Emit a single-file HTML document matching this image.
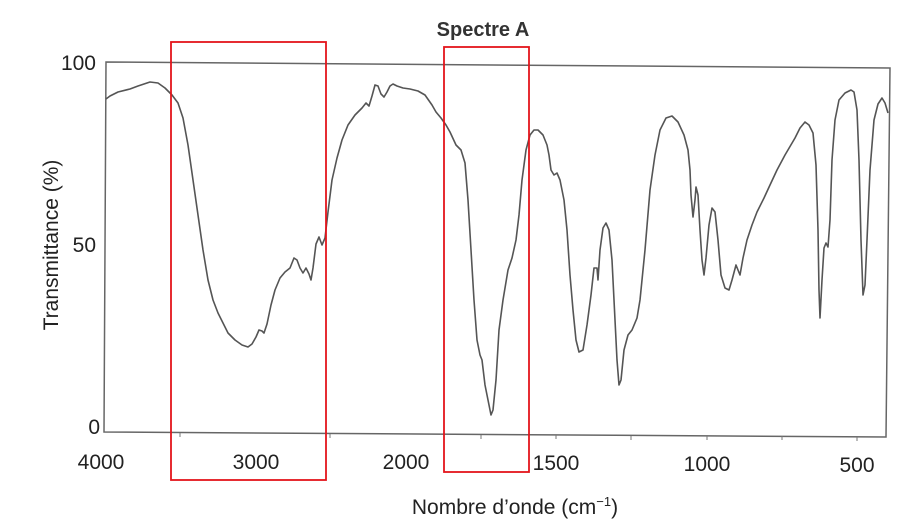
<!DOCTYPE html>
<html><head><meta charset="utf-8"><style>
body{margin:0;background:#fff;}
svg{display:block;font-family:"Liberation Sans",Arial,sans-serif;}
</style></head><body>
<svg width="910" height="523" viewBox="0 0 910 523">
<rect width="910" height="523" fill="#fff"/>
<text x="483" y="36" text-anchor="middle" font-size="20" font-weight="bold" fill="#333">Spectre A</text>
<polygon points="106,62 890,68 886,437 104,432" fill="none" stroke="#666" stroke-width="1.5"/>
<g stroke="#777" stroke-width="1">
<line x1="180" y1="433" x2="180" y2="437"/><line x1="330" y1="434" x2="330" y2="438"/>
<line x1="481" y1="435" x2="481" y2="439"/><line x1="556" y1="435" x2="556" y2="439"/>
<line x1="631" y1="436" x2="631" y2="440"/><line x1="707" y1="436" x2="707" y2="440"/>
<line x1="782" y1="436" x2="782" y2="440"/><line x1="857" y1="437" x2="857" y2="441"/>
</g>
<g font-size="21" fill="#222">
<text x="96" y="70" text-anchor="end">100</text>
<text x="96" y="252" text-anchor="end">50</text>
<text x="100" y="434" text-anchor="end">0</text>
<text x="101" y="469" text-anchor="middle">4000</text>
<text x="256" y="469" text-anchor="middle">3000</text>
<text x="406" y="469" text-anchor="middle">2000</text>
<text x="556" y="470" text-anchor="middle">1500</text>
<text x="707" y="471" text-anchor="middle">1000</text>
<text x="857" y="472" text-anchor="middle">500</text>
<text x="515" y="514" text-anchor="middle">Nombre d’onde (cm<tspan font-size="13" dy="-8">−1</tspan><tspan dy="8">)</tspan></text>
<text transform="translate(58,245) rotate(-90)" text-anchor="middle">Transmittance (%)</text>
</g>
<polyline fill="none" stroke="#555" stroke-width="1.6" stroke-linejoin="round" points="106,99 110,96 118,92 130,89 138,86 150,82 158,83 165,88 172,95 178,103 183,118 188,145 193,180 198,215 203,250 208,280 213,300 218,313 223,323 228,333 235,340 242,345 248,347 252,344 256,337 259,330 262,331 264,333 267,324 271,305 275,290 280,278 285,272 290,268 294,258 297,260 300,268 303,273 306,268 309,274 311,280 313,268 316,244 319,237 322,245 325,238 328,212 332,180 337,158 342,140 348,125 355,115 362,108 366,103 369,106 372,96 375,85 378,86 381,94 384,97 387,92 390,86 393,84 397,86 403,88 410,89 418,91 425,95 432,105 436,112 441,118 446,125 450,132 456,145 461,150 465,163 468,200 471,250 474,300 477,340 480,355 482,360 485,385 489,405 491,415 493,410 496,380 499,330 503,300 508,270 512,258 516,240 519,215 522,180 526,150 530,135 534,130 538,130 543,135 547,145 549,155 551,170 554,175 557,173 560,180 564,200 567,230 570,275 573,310 576,340 579,352 583,350 587,325 591,295 594,268 597,268 598,280 600,250 603,228 606,223 609,230 612,260 615,320 617,360 619,385 621,380 624,350 628,335 632,330 637,318 640,300 645,250 650,190 655,155 660,130 666,118 672,116 678,122 684,135 688,150 690,170 691,195 693,217 695,200 696,187 698,195 700,230 702,260 704,275 706,258 709,225 712,208 715,212 718,240 721,275 725,288 729,290 732,280 736,265 738,270 740,275 743,258 747,240 752,225 757,212 764,198 770,185 777,170 785,155 795,138 800,128 805,122 809,125 813,133 816,165 818,230 819,290 820,318 822,280 824,248 826,243 828,247 830,220 832,160 835,120 839,100 845,93 851,90 854,92 857,110 859,160 861,240 863,295 865,285 867,240 870,170 874,120 878,104 882,98 885,103 888,113"/>
<rect x="171" y="42" width="155" height="438" fill="none" stroke="#e3141b" stroke-width="1.8"/>
<rect x="444" y="47" width="85" height="425" fill="none" stroke="#e3141b" stroke-width="1.8"/>
</svg>
</body></html>
